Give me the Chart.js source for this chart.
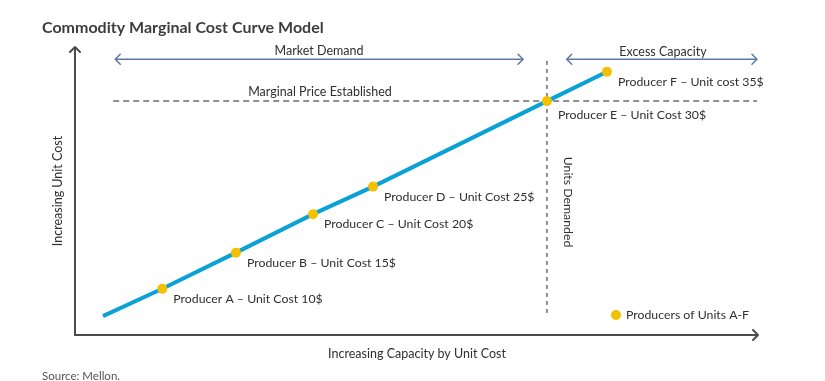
<!DOCTYPE html>
<html>
<head>
<meta charset="utf-8">
<script src="https://cdn.jsdelivr.net/npm/chart.js@4.4.1/dist/chart.umd.min.js"></script>
<style>
  html, body { margin: 0; padding: 0; background: #ffffff; }
  canvas { display: block; }
</style>
</head>
<body>
<canvas id="c" width="825" height="381"></canvas>
<script>
// ---- Data (arbitrary 0-100 units) ----
const producers = ['A', 'B', 'C', 'D', 'E', 'F'];
const producerLabels = [
  'Producer A \u2013 Unit Cost 10$',
  'Producer B \u2013 Unit Cost 15$',
  'Producer C \u2013 Unit Cost 20$',
  'Producer D \u2013 Unit Cost 25$',
  'Producer E \u2013 Unit Cost 30$',
  'Producer F \u2013 Unit cost 35$'
];
const capacityX = [12.8, 23.6, 34.9, 43.7, 69.2, 78.0];   // increasing capacity
const costY     = [16.1, 28.7, 42.1, 51.7, 81.5, 91.7];   // increasing unit cost
const curveStartX = [4.1];
const curveStartY = [6.6];
const marginalPriceY = [81.5];      // horizontal dashed line level (Producer E)
const marginalPriceX = [5.6, 100];  // horizontal dashed extent
const unitsDemandedX = [69.2];      // vertical dashed line position (Producer E)
const unitsDemandedY = [7.7, 95.8]; // vertical dashed extent
const marketDemandX = [5.9, 65.7];
const excessCapacityX = [72.1, 100];
const topArrowY = [96.1];

// ---- Build datasets ----
const curveX = curveStartX.concat(capacityX);
const curveY = curveStartY.concat(costY);
const curveData = curveX.map((x, i) => ({ x: x, y: curveY[i] }));
const curveRadius = curveX.map((x, i) => (i === 0 ? 0 : 5));

const chart = new Chart(document.getElementById('c'), {
  type: 'line',
  data: {
    datasets: [
      {
        label: 'Producers of Units A-F',
        data: curveData,
        borderColor: '#0aa2d6',
        borderWidth: 4,
        pointRadius: curveRadius,
        pointBackgroundColor: '#f5c000',
        pointBorderWidth: 0,
        pointHoverRadius: curveRadius,
        tension: 0,
        order: 0
      },
      {
        label: 'Marginal Price Established',
        data: marginalPriceX.map(x => ({ x: x, y: marginalPriceY[0] })),
        borderColor: '#6b6b6b',
        borderWidth: 1.5,
        borderDash: [6, 4],
        pointRadius: 0,
        order: 2
      },
      {
        label: 'Units Demanded',
        data: unitsDemandedY.map(y => ({ x: unitsDemandedX[0], y: y })),
        borderColor: '#6b6b6b',
        borderWidth: 1.5,
        borderDash: [4, 4],
        pointRadius: 0,
        order: 2
      },
      {
        label: 'Market Demand',
        data: marketDemandX.map(x => ({ x: x, y: topArrowY[0] })),
        borderColor: '#5b78a6',
        borderWidth: 1.5,
        pointRadius: 0,
        order: 3
      },
      {
        label: 'Excess Capacity',
        data: excessCapacityX.map(x => ({ x: x, y: topArrowY[0] })),
        borderColor: '#5b78a6',
        borderWidth: 1.5,
        pointRadius: 0,
        order: 3
      }
    ]
  },
  options: {
    responsive: false,
    animation: false,
    events: [],
    layout: { padding: { left: 75, right: 68, top: 48, bottom: 46 } },
    scales: {
      x: { type: 'linear', min: 0, max: 100, display: false },
      y: { type: 'linear', min: 0, max: 100, display: false }
    },
    plugins: {
      legend: { display: false },
      tooltip: { enabled: false }
    }
  },
  plugins: [{
    id: 'decor',
    afterDraw(chart) {
      const ctx = chart.ctx;
      const ca = chart.chartArea;
      const FONT = '"Lato", "Liberation Sans", sans-serif';
      const TXT = '#2f2f2f';

      function chevron(x, y, dir, size, color, lw) {
        ctx.save();
        ctx.strokeStyle = color;
        ctx.lineWidth = lw;
        ctx.lineCap = 'round';
        ctx.lineJoin = 'round';
        ctx.beginPath();
        if (dir === 'left') {
          ctx.moveTo(x + size, y - size); ctx.lineTo(x, y); ctx.lineTo(x + size, y + size);
        } else if (dir === 'right') {
          ctx.moveTo(x - size, y - size); ctx.lineTo(x, y); ctx.lineTo(x - size, y + size);
        } else if (dir === 'up') {
          ctx.moveTo(x - size, y + size); ctx.lineTo(x, y); ctx.lineTo(x + size, y + size);
        }
        ctx.stroke();
        ctx.restore();
      }

      // Axes
      ctx.save();
      ctx.strokeStyle = '#4d4d4d';
      ctx.lineWidth = 2;
      ctx.beginPath();
      ctx.moveTo(ca.left, ca.top);
      ctx.lineTo(ca.left, ca.bottom);
      ctx.lineTo(ca.right, ca.bottom);
      ctx.stroke();
      ctx.restore();
      chevron(ca.left, ca.top - 1, 'up', 5, '#4d4d4d', 2);
      chevron(ca.right + 1, ca.bottom, 'right', 5, '#4d4d4d', 2);

      // Top double arrows
      [3, 4].forEach(i => {
        const pts = chart.getDatasetMeta(i).data;
        chevron(pts[0].x, pts[0].y, 'left', 5, '#5b78a6', 1.5);
        chevron(pts[1].x, pts[1].y, 'right', 5, '#5b78a6', 1.5);
      });

      ctx.save();
      ctx.textBaseline = 'middle';
      ctx.fillStyle = TXT;

      // Top arrow labels
      ctx.font = '12.5px ' + FONT;
      ctx.textAlign = 'center';
      const md = chart.getDatasetMeta(3).data;
      ctx.fillText('Market Demand', 319, md[0].y - 8);
      const ec = chart.getDatasetMeta(4).data;
      ctx.fillText('Excess Capacity', 663, ec[0].y - 7);
      const mp = chart.getDatasetMeta(1).data;
      ctx.fillText('Marginal Price Established', 320, mp[0].y - 9);

      // Producer labels
      ctx.font = '12.3px ' + FONT;
      ctx.textAlign = 'left';
      const cp = chart.getDatasetMeta(0).data;
      producerLabels.forEach((t, i) => {
        const p = cp[i + 1];
        const dy = producers[i] === 'E' ? 14 : 10;
        ctx.fillText(t, p.x + 11, p.y + dy);
      });

      // Units Demanded (rotated clockwise)
      const ud = chart.getDatasetMeta(2).data;
      ctx.save();
      ctx.translate(ud[0].x + 21, 202);
      ctx.rotate(Math.PI / 2);
      ctx.textAlign = 'center';
      ctx.fillText('Units Demanded', 0, 0);
      ctx.restore();

      // Legend
      ctx.fillStyle = '#f5c000';
      ctx.beginPath();
      ctx.arc(616, 315, 5, 0, Math.PI * 2);
      ctx.fill();
      ctx.fillStyle = TXT;
      ctx.textAlign = 'left';
      ctx.fillText('Producers of Units A-F', 626, 315);

      // Axis titles
      ctx.font = '12.5px ' + FONT;
      ctx.textAlign = 'center';
      ctx.fillText('Increasing Capacity by Unit Cost', 417, 354);
      ctx.save();
      ctx.translate(58, 191);
      ctx.rotate(-Math.PI / 2);
      ctx.fillText('Increasing Unit Cost', 0, 0);
      ctx.restore();

      // Title
      ctx.textAlign = 'left';
      ctx.fillStyle = '#3d3d3d';
      ctx.font = 'bold 16px ' + FONT;
      ctx.fillText('Commodity Marginal Cost Curve Model', 42, 28);

      // Source
      ctx.fillStyle = '#555555';
      ctx.font = '11.5px ' + FONT;
      ctx.fillText('Source: Mellon.', 42, 376);
      ctx.restore();
    }
  }]
});
</script>
</body>
</html>
